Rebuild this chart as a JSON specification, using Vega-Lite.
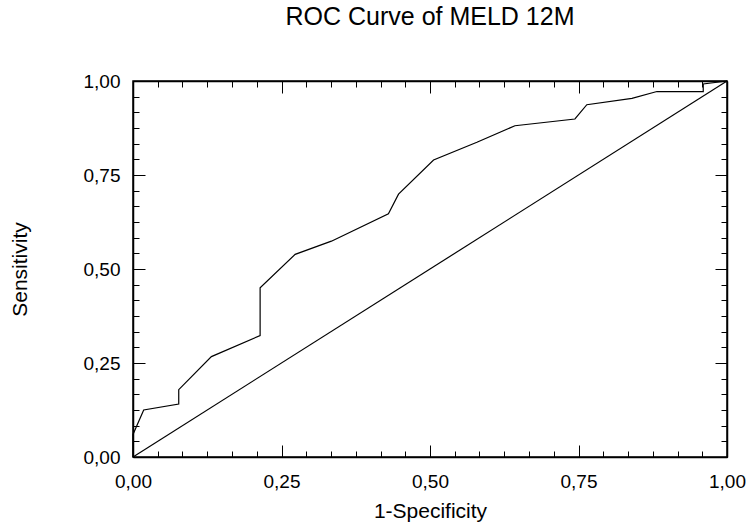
{
  "$schema": "https://vega.github.io/schema/vega-lite/v6.json",
  "autosize": "none",
  "padding": {"left": 133, "top": 81, "right": 25, "bottom": 70},
  "width": 594,
  "height": 376,
  "background": "white",
  "title": {
    "text": "ROC Curve of MELD 12M",
    "font": "Liberation Sans",
    "fontSize": 25,
    "fontWeight": "normal",
    "color": "black",
    "anchor": "middle",
    "frame": "group",
    "baseline": "alphabetic",
    "offset": 22
  },
  "config": {
    "view": {"stroke": "black", "strokeWidth": 1.5},
    "axis": {
      "grid": false,
      "domainColor": "black",
      "domainWidth": 1.5,
      "tickColor": "black",
      "tickWidth": 1,
      "labelFont": "Liberation Sans",
      "labelFontSize": 19,
      "labelColor": "black",
      "titleFont": "Liberation Sans",
      "titleFontSize": 21,
      "titleFontWeight": "normal",
      "titleColor": "black"
    }
  },
  "data": {
    "values": [
      {"series": "ROC", "i": 0, "fpr": 0, "tpr": 0},
      {"series": "ROC", "i": 1, "fpr": 0, "tpr": 0.06},
      {"series": "ROC", "i": 2, "fpr": 0.018, "tpr": 0.125},
      {"series": "ROC", "i": 3, "fpr": 0.077, "tpr": 0.141},
      {"series": "ROC", "i": 4, "fpr": 0.077, "tpr": 0.179},
      {"series": "ROC", "i": 5, "fpr": 0.132, "tpr": 0.267},
      {"series": "ROC", "i": 6, "fpr": 0.214, "tpr": 0.323},
      {"series": "ROC", "i": 7, "fpr": 0.214, "tpr": 0.45},
      {"series": "ROC", "i": 8, "fpr": 0.273, "tpr": 0.539},
      {"series": "ROC", "i": 9, "fpr": 0.334, "tpr": 0.574},
      {"series": "ROC", "i": 10, "fpr": 0.43, "tpr": 0.647},
      {"series": "ROC", "i": 11, "fpr": 0.447, "tpr": 0.699},
      {"series": "ROC", "i": 12, "fpr": 0.506, "tpr": 0.79},
      {"series": "ROC", "i": 13, "fpr": 0.579, "tpr": 0.837},
      {"series": "ROC", "i": 14, "fpr": 0.643, "tpr": 0.881},
      {"series": "ROC", "i": 15, "fpr": 0.744, "tpr": 0.899},
      {"series": "ROC", "i": 16, "fpr": 0.764, "tpr": 0.937},
      {"series": "ROC", "i": 17, "fpr": 0.84, "tpr": 0.954},
      {"series": "ROC", "i": 18, "fpr": 0.882, "tpr": 0.972},
      {"series": "ROC", "i": 19, "fpr": 0.96, "tpr": 0.972},
      {"series": "ROC", "i": 20, "fpr": 0.96, "tpr": 0.992},
      {"series": "ROC", "i": 21, "fpr": 1, "tpr": 1},
      {"series": "Reference", "i": 0, "fpr": 0, "tpr": 0},
      {"series": "Reference", "i": 1, "fpr": 1, "tpr": 1}
    ]
  },
  "layer": [
    {
      "mark": {"type": "line", "color": "black", "strokeWidth": 1.2},
      "encoding": {
        "x": {
          "field": "fpr", "type": "quantitative",
          "scale": {"domain": [0, 1], "nice": false},
          "axis": {
            "orient": "bottom",
            "values": [0, 0.0416667, 0.0833333, 0.125, 0.1666667, 0.2083333, 0.25, 0.2916667, 0.3333333, 0.375, 0.4166667, 0.4583333, 0.5, 0.5416667, 0.5833333, 0.625, 0.6666667, 0.7083333, 0.75, 0.7916667, 0.8333333, 0.875, 0.9166667, 0.9583333, 1],
            "tickSize": {"condition": {"test": "abs(datum.value*4-round(datum.value*4))<0.001", "value": -12}, "value": -6},
            "labelExpr": "abs(datum.value*4-round(datum.value*4))<0.001 ? replace(format(datum.value,'.2f'),'.',',') : ''",
            "labelPadding": 27,
            "labelFlush": false,
            "title": "1-Specificity",
            "titleBaseline": "alphabetic",
            "titleY": 60
          }
        },
        "y": {
          "field": "tpr", "type": "quantitative",
          "scale": {"domain": [0, 1], "nice": false},
          "axis": {
            "orient": "left",
            "values": [0, 0.0416667, 0.0833333, 0.125, 0.1666667, 0.2083333, 0.25, 0.2916667, 0.3333333, 0.375, 0.4166667, 0.4583333, 0.5, 0.5416667, 0.5833333, 0.625, 0.6666667, 0.7083333, 0.75, 0.7916667, 0.8333333, 0.875, 0.9166667, 0.9583333, 1],
            "tickSize": {"condition": {"test": "abs(datum.value*4-round(datum.value*4))<0.001", "value": -12}, "value": -6},
            "labelExpr": "abs(datum.value*4-round(datum.value*4))<0.001 ? replace(format(datum.value,'.2f'),'.',',') : ''",
            "labelPadding": 25,
            "labelFlush": false,
            "title": "Sensitivity",
            "titleBaseline": "alphabetic",
            "titleAngle": 270,
            "titleX": -107
          }
        },
        "detail": {"field": "series"},
        "order": {"field": "i", "type": "quantitative"}
      }
    },
    {
      "mark": {"type": "line", "opacity": 0},
      "encoding": {
        "x": {
          "field": "fpr", "type": "quantitative",
          "axis": {
            "orient": "top",
            "values": [0, 0.0416667, 0.0833333, 0.125, 0.1666667, 0.2083333, 0.25, 0.2916667, 0.3333333, 0.375, 0.4166667, 0.4583333, 0.5, 0.5416667, 0.5833333, 0.625, 0.6666667, 0.7083333, 0.75, 0.7916667, 0.8333333, 0.875, 0.9166667, 0.9583333, 1],
            "tickSize": {"condition": {"test": "abs(datum.value*4-round(datum.value*4))<0.001", "value": -12}, "value": -6},
            "labels": false,
            "title": null
          }
        },
        "y": {
          "field": "tpr", "type": "quantitative",
          "axis": {
            "orient": "right",
            "values": [0, 0.0416667, 0.0833333, 0.125, 0.1666667, 0.2083333, 0.25, 0.2916667, 0.3333333, 0.375, 0.4166667, 0.4583333, 0.5, 0.5416667, 0.5833333, 0.625, 0.6666667, 0.7083333, 0.75, 0.7916667, 0.8333333, 0.875, 0.9166667, 0.9583333, 1],
            "tickSize": {"condition": {"test": "abs(datum.value*4-round(datum.value*4))<0.001", "value": -12}, "value": -6},
            "labels": false,
            "title": null
          }
        },
        "detail": {"field": "series"},
        "order": {"field": "i", "type": "quantitative"}
      }
    }
  ],
  "resolve": {"axis": {"x": "independent", "y": "independent"}}
}
